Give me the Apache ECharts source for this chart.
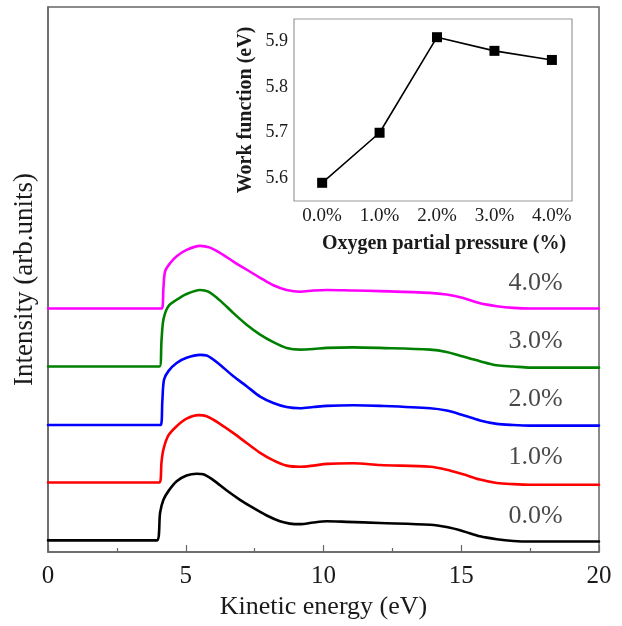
<!DOCTYPE html>
<html>
<head>
<meta charset="utf-8">
<script src="https://cdn.jsdelivr.net/npm/echarts@6/dist/echarts.min.js"></script>
<style>
html,body{margin:0;padding:0;background:#fff;}
#chart{width:622px;height:626px;}
</style>
</head>
<body>
<div id="chart"></div>
<script>
// Main spectra: [kinetic energy (eV), intensity (arb. units, stacked as plotted)]
const curve0 = [[0,0.20],[3.95,0.20],[4.07,0.68],[4.19,0.90],[4.37,1.05],[4.67,1.22],[5.03,1.32],[5.40,1.35],[5.64,1.34],[6.00,1.24],[6.49,1.06],[6.97,0.90],[7.45,0.76],[7.94,0.63],[8.42,0.53],[8.78,0.49],[9.15,0.48],[9.63,0.51],[10.12,0.53],[10.84,0.52],[12.05,0.50],[13.87,0.47],[14.47,0.43],[15.07,0.36],[15.68,0.27],[16.29,0.22],[16.89,0.19],[17.50,0.18],[20,0.18]];
const curve1 = [[0,1.20],[4.05,1.20],[4.12,1.55],[4.19,1.77],[4.37,2.01],[4.67,2.17],[5.03,2.30],[5.46,2.36],[5.76,2.34],[6.24,2.21],[6.73,2.05],[7.21,1.88],[7.70,1.71],[8.18,1.58],[8.66,1.49],[9.15,1.47],[9.63,1.49],[10.12,1.52],[11.08,1.53],[12.05,1.50],[13.87,1.47],[14.47,1.42],[15.07,1.34],[15.68,1.25],[16.29,1.19],[16.89,1.17],[17.50,1.16],[20,1.16]];
const curve2 = [[0,2.19],[4.09,2.19],[4.15,2.60],[4.21,2.97],[4.37,3.12],[4.67,3.26],[5.03,3.35],[5.52,3.40],[5.76,3.39],[6.24,3.23],[6.73,3.03],[7.21,2.86],[7.70,2.68],[8.18,2.57],[8.66,2.50],[9.15,2.48],[9.63,2.50],[10.12,2.52],[11.08,2.53],[12.05,2.52],[13.87,2.48],[14.47,2.44],[15.07,2.36],[15.68,2.27],[16.29,2.21],[16.89,2.19],[17.50,2.18],[20,2.18]];
const curve3 = [[0,3.20],[4.05,3.20],[4.12,3.65],[4.19,4.01],[4.37,4.24],[4.67,4.35],[5.03,4.45],[5.52,4.52],[5.82,4.49],[6.24,4.34],[6.73,4.12],[7.21,3.92],[7.70,3.75],[8.18,3.62],[8.66,3.52],[9.15,3.49],[9.63,3.50],[10.12,3.52],[11.08,3.53],[12.05,3.52],[13.87,3.49],[14.47,3.45],[15.07,3.37],[15.68,3.29],[16.29,3.22],[16.89,3.20],[17.50,3.18],[20,3.18]];
const curve4 = [[0,4.20],[4.13,4.20],[4.19,4.55],[4.25,4.84],[4.43,4.98],[4.67,5.10],[5.03,5.21],[5.52,5.28],[5.88,5.25],[6.24,5.16],[6.73,5.01],[7.21,4.87],[7.70,4.73],[8.18,4.60],[8.66,4.52],[9.15,4.49],[9.63,4.51],[10.12,4.52],[11.08,4.51],[12.05,4.50],[13.87,4.47],[14.47,4.44],[15.07,4.38],[15.68,4.29],[16.29,4.24],[16.89,4.21],[17.50,4.20],[20,4.20]];

const seriesNames = ['0.0%','1.0%','2.0%','3.0%','4.0%'];
const seriesColors = ['#000000','#ff0000','#0000ff','#008000','#ff00ff'];
const labelX = [17.7,17.7,17.7,17.7,17.7];
const labelY = [0.62,1.63,2.63,3.63,4.64];

const xTicks = [0,5,10,15,20];

// Inset: work function vs oxygen partial pressure
const oxygenPressure = [0,1,2,3,4];
const oxygenLabels = ['0.0%','1.0%','2.0%','3.0%','4.0%'];
const workFunction = [5.59,5.70,5.91,5.88,5.86];
const wfTicks = [5.6,5.7,5.8,5.9];

const curves = [curve0,curve1,curve2,curve3,curve4];
const serif = '"Liberation Serif", "Times New Roman", serif';

const chart = echarts.init(document.getElementById('chart'), null, {renderer:'canvas'});

const series = curves.map((c,i)=>({
  type:'line', name:seriesNames[i], xAxisIndex:0, yAxisIndex:0,
  data:c, showSymbol:false, smooth:0.3,
  lineStyle:{color:seriesColors[i], width:2.6, join:'round', cap:'round'}, z:3, silent:true
}));

series.push({
  type:'scatter', xAxisIndex:0, yAxisIndex:0, symbolSize:0, silent:true,
  data:seriesNames.map((n,i)=>({name:n, value:[labelX[i], labelY[i]]})),
  label:{show:true, position:'inside', formatter:p=>p.name, fontFamily:serif, fontSize:26, color:'#1a1a1a'}
});

series.push({
  type:'line', xAxisIndex:1, yAxisIndex:1, silent:true,
  data:oxygenPressure.map((x,i)=>[x, workFunction[i]]),
  symbol:'rect', symbolSize:10, showSymbol:true,
  itemStyle:{color:'#000'}, lineStyle:{color:'#000', width:1.6}, z:5
});

chart.setOption({
  animation:false,
  backgroundColor:'#fff',
  grid:[
    {left:48, top:7, right:23, bottom:74, show:true, borderColor:'#666', borderWidth:1.5, backgroundColor:'transparent', containLabel:false},
    {left:294, top:19, width:278, height:182, show:true, borderColor:'#999', borderWidth:1.2, backgroundColor:'#fff', z:4, containLabel:false}
  ],
  xAxis:[
    {type:'value', gridIndex:0, min:0, max:20, interval:5,
     name:'Kinetic energy (eV)', nameLocation:'middle', nameGap:40,
     nameTextStyle:{fontFamily:serif, fontSize:26, color:'#1a1a1a'},
     axisLine:{show:true, lineStyle:{color:'#666', width:1.5}},
     axisTick:{show:true, inside:true, length:7, lineStyle:{color:'#666', width:1.2}},
     minorTick:{show:true, splitNumber:2, length:4, lineStyle:{color:'#666', width:1.2}},
     axisLabel:{fontFamily:serif, fontSize:25, color:'#1a1a1a', margin:12, customValues:xTicks},
     splitLine:{show:false}},
    {type:'value', gridIndex:1, min:-0.49, max:4.35,
     name:'Oxygen partial pressure (%)', nameLocation:'middle', nameGap:33,
     nameTextStyle:{fontFamily:serif, fontSize:20, fontWeight:'bold', color:'#1a1a1a', padding:[0,0,0,22]},
     axisLine:{show:false}, axisTick:{show:false}, splitLine:{show:false},
     axisLabel:{fontFamily:serif, fontSize:19, color:'#1a1a1a', margin:6, customValues:oxygenPressure,
       formatter:v=>oxygenLabels[oxygenPressure.indexOf(v)] || ''}}
  ],
  yAxis:[
    {type:'value', gridIndex:0, min:0, max:9.4,
     name:'Intensity (arb.units)', nameLocation:'middle', nameGap:10,
     nameTextStyle:{fontFamily:serif, fontSize:27, color:'#1a1a1a'},
     axisLine:{show:true, lineStyle:{color:'#666', width:1.5}},
     axisTick:{show:false}, axisLabel:{show:false}, splitLine:{show:false}},
    {type:'value', gridIndex:1, min:5.55, max:5.95,
     name:'Work function (eV)', nameLocation:'middle', nameGap:38,
     nameTextStyle:{fontFamily:serif, fontSize:20, fontWeight:'bold', color:'#1a1a1a'},
     axisLine:{show:false}, axisTick:{show:false}, splitLine:{show:false},
     axisLabel:{fontFamily:serif, fontSize:18, color:'#1a1a1a', margin:6, customValues:wfTicks,
       formatter:v=>v.toFixed(1)}}
  ],
  series:series
});
</script>
</body>
</html>
